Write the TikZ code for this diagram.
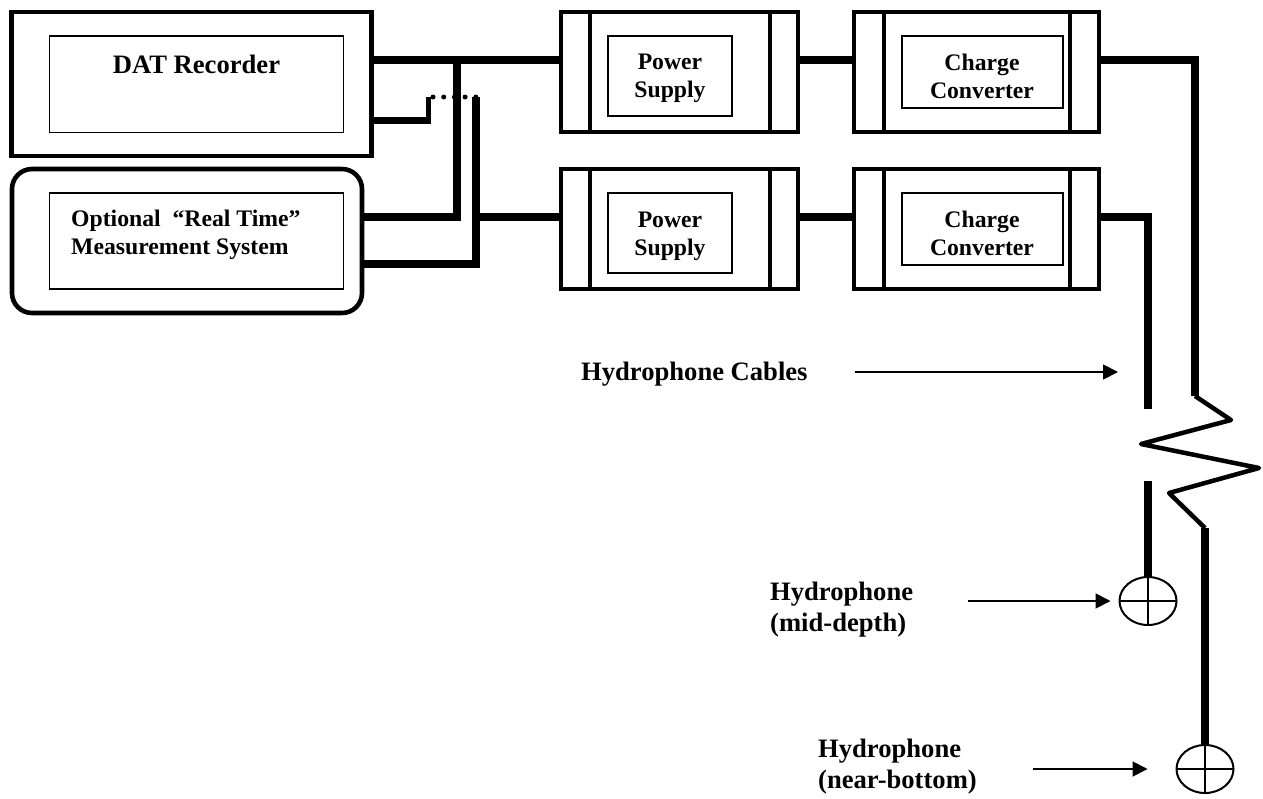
\documentclass[tikz,border=0pt]{standalone}
\usepackage{fontspec}
\setmainfont{Liberation Serif}
\usetikzlibrary{arrows.meta,shapes.geometric}
\tikzset{
  box/.style={draw,line width=1.7pt,inner sep=0pt,outer sep=0pt},
  unit/.style={box,line width=3.2pt,minimum height=120pt},
  lbl/.style={inner sep=0pt,align=center,font=\bfseries\fontsize{23.7}{28}\selectfont},
  biglbl/.style={inner sep=0pt,align=left,anchor=west,font=\bfseries\fontsize{26.6}{31}\selectfont},
  cable/.style={line width=7.5pt},
  phone/.style={draw,ellipse,line width=2pt,inner sep=0pt,outer sep=0pt,minimum width=57pt,minimum height=48pt},
  pointer/.style={->,line width=1.8pt}
}
\begin{document}
\begin{tikzpicture}[x=1pt,y=-1pt,>={Triangle[length=15pt,width=15pt]}]
  \useasboundingbox (0,0) rectangle (1263,798);
  % recorder and real time system
  \node[box,line width=4.6pt,minimum width=360pt,minimum height=144pt] (dat) at (191.7,84) {};
  \node[box,minimum width=294pt,minimum height=96.5pt] (datin) at (196.5,84.2) {};
  \node[biglbl,anchor=center] (datlbl) at (196.5,64) {DAT Recorder};
  \node[box,rounded corners=20pt,line width=4.6pt,minimum width=350pt,minimum height=144pt] (rts) at (187,241) {};
  \node[box,minimum width=294pt,minimum height=96pt] (rtsin) at (196.5,241) {};
  \node[lbl,align=left,anchor=west] (rtslbl) at (71,235) {Optional ~“Real Time”\\Measurement System};
  % supplies and converters
  \foreach \nm/\cx/\cy/\uw/\gap/\ix/\iw/\ih in {
      ps1/679.5/72/237/29/670/124/80,
      cc1/976.5/72/245/30/982.5/161.5/72,
      ps2/679.5/229/237/29/670/124/80,
      cc2/976.5/229/245/30/982.5/161.5/72}{
    \node[unit,minimum width=\uw pt] (\nm) at (\cx,\cy) {};
    \draw[line width=3.2pt] (\nm.north west) ++(\gap,0) -- ++(0,120);
    \draw[line width=3.2pt] (\nm.north east) ++(-\gap+1,0) -- ++(0,120);
    \node[box,anchor=north,minimum width=\iw pt,minimum height=\ih pt] (\nm in) at (\ix,\cy-36) {};
  }
  \node[lbl] (ps1lbl) at (670,78.5) {Power\\Supply};
  \node[lbl] (cc1lbl) at (982,76) {Charge\\Converter};
  \node[lbl] (ps2lbl) at (670,236) {Power\\Supply};
  \node[lbl] (cc2lbl) at (982,233) {Charge\\Converter};
  % cables
  \coordinate (toprow) at (0,60);
  \coordinate (botrow) at (0,217);
  \coordinate (j1) at (457,60);
  \coordinate (j2) at (457,217);
  \coordinate (j3) at (476,97);
  \coordinate (j4) at (476,264);
  \coordinate (stub1) at (428,120.7);
  \coordinate (stub2) at (428,97);
  \draw[cable] (dat.east |- toprow) -- (ps1.west |- toprow);
  \draw[cable] (j1) -- (j2) -- (rts.east |- j2);
  \draw[cable] (j3) -- (j4) -- (rts.east |- j4);
  \draw[cable] (j4 |- botrow) -- (ps2.west |- botrow);
  \draw[line width=7pt] (dat.east |- stub1) -- (stub1);
  \draw[line width=5pt] (stub1) ++(0,3.5) -- (stub2);
  \draw[line width=5pt,line cap=round,dash pattern=on 0pt off 10.7pt] (433,97) -- (477,97);
  \draw[cable] (ps1.east |- toprow) -- (cc1.west |- toprow);
  \draw[cable] (ps2.east |- botrow) -- (cc2.west |- botrow);
  % hydrophones
  \node[phone] (hyd1) at (1148,601) {};
  \node[phone] (hyd2) at (1205,769) {};
  \draw[line width=2pt] (hyd1.north) -- (hyd1.south) (hyd1.west) -- (hyd1.east);
  \draw[line width=2pt] (hyd2.north) -- (hyd2.south) (hyd2.west) -- (hyd2.east);
  \coordinate (z1) at (1195,60);
  \coordinate (z2) at (1195,396);
  \coordinate (z3) at (1231,420);
  \coordinate (z4) at (1141,444);
  \coordinate (z5) at (1259,468);
  \coordinate (z6) at (1169,493);
  \coordinate (z7) at (1205,528);
  \coordinate (y1) at (1148,217);
  \coordinate (y2) at (1148,409);
  \coordinate (y3) at (1148,481);
  \draw[cable] (cc1.east |- z1) -- (z1) -- (z2);
  \draw[line width=4.5pt,line join=round] (z2) -- (z3) -- (z4) -- (z5) -- (z6) -- (z7);
  \draw[cable] (z7) -- (hyd2.north);
  \draw[cable] (cc2.east |- y1) -- (y1) -- (y2);
  \draw[cable] (y3) -- (hyd1.north);
  % labels
  \node[biglbl] (cablbl) at (581,374.5) {Hydrophone Cables};
  \node[biglbl] (h1lbl) at (770,609.5) {Hydrophone\\(mid-depth)};
  \node[biglbl] (h2lbl) at (818,767) {Hydrophone\\(near-bottom)};
  \coordinate (a1) at (855,372);
  \coordinate (a2) at (1118,372);
  \coordinate (a3) at (968,601);
  \coordinate (a4) at (1033,769);
  \draw[pointer] (a1) -- (a2);
  \draw[pointer,shorten >=9pt] (a3) -- (hyd1.west);
  \draw[pointer,shorten >=29pt] (a4) -- (hyd2.west);
\end{tikzpicture}
\end{document}
